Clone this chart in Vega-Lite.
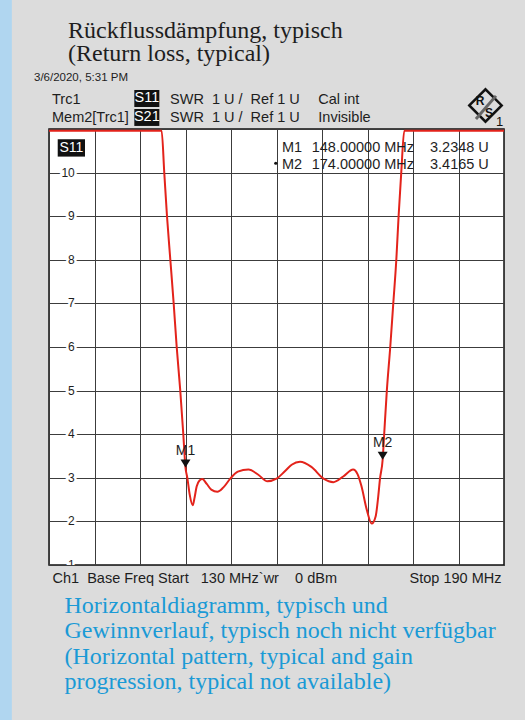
{
  "$schema": "https://vega.github.io/schema/vega-lite/v6.json",
  "width": 455,
  "height": 436,
  "autosize": {"type": "none"},
  "padding": {"left": 49, "top": 129, "right": 21, "bottom": 155},
  "background": "#dcdcdc",
  "view": {"fill": "white", "stroke": "#111111", "strokeWidth": 1.5},
  "title": {
    "text": ["Rückflussdämpfung, typisch", "(Return loss, typical)"],
    "anchor": "start",
    "frame": "group",
    "dx": 19,
    "offset": -92,
    "baseline": "bottom",
    "font": "Liberation Serif",
    "fontSize": 24,
    "fontWeight": "normal",
    "color": "#1e1e1e",
    "lineHeight": 23.5
  },
  "data": {"values": [{}]},
  "datasets": {
    "trace": [
      {"freq": 130, "swr": 10.96},
      {"freq": 144.85, "swr": 10.96},
      {"freq": 145.2, "swr": 10.0},
      {"freq": 145.56, "swr": 9.0},
      {"freq": 146.0, "swr": 8.0},
      {"freq": 146.44, "swr": 7.0},
      {"freq": 146.84, "swr": 6.0},
      {"freq": 147.31, "swr": 5.0},
      {"freq": 147.71, "swr": 4.0},
      {"freq": 148.0, "swr": 3.23},
      {"freq": 148.24, "swr": 3.0},
      {"freq": 148.55, "swr": 2.62},
      {"freq": 148.95, "swr": 2.37},
      {"freq": 149.2, "swr": 2.55},
      {"freq": 149.47, "swr": 2.8},
      {"freq": 149.85, "swr": 2.94},
      {"freq": 150.22, "swr": 2.97},
      {"freq": 150.8, "swr": 2.86},
      {"freq": 151.4, "swr": 2.73},
      {"freq": 152.2, "swr": 2.68},
      {"freq": 153.0, "swr": 2.78},
      {"freq": 153.9, "swr": 2.98},
      {"freq": 154.9, "swr": 3.14},
      {"freq": 156.3, "swr": 3.19},
      {"freq": 157.6, "swr": 3.07},
      {"freq": 158.8, "swr": 2.92},
      {"freq": 160.0, "swr": 2.98},
      {"freq": 161.1, "swr": 3.15},
      {"freq": 162.0, "swr": 3.3},
      {"freq": 163.1, "swr": 3.37},
      {"freq": 164.6, "swr": 3.25},
      {"freq": 166.2, "swr": 2.98},
      {"freq": 167.5, "swr": 2.9},
      {"freq": 168.8, "swr": 3.03},
      {"freq": 170.1, "swr": 3.19},
      {"freq": 170.7, "swr": 3.08},
      {"freq": 171.2, "swr": 2.81},
      {"freq": 171.9, "swr": 2.27},
      {"freq": 172.55, "swr": 1.95},
      {"freq": 173.08, "swr": 2.12},
      {"freq": 173.42, "swr": 2.58},
      {"freq": 173.65, "swr": 2.98},
      {"freq": 174.0, "swr": 3.42},
      {"freq": 174.2, "swr": 4.0},
      {"freq": 174.55, "swr": 5.0},
      {"freq": 175.0, "swr": 6.0},
      {"freq": 175.4, "swr": 7.0},
      {"freq": 175.8, "swr": 8.0},
      {"freq": 176.1, "swr": 9.0},
      {"freq": 176.45, "swr": 10.0},
      {"freq": 176.85, "swr": 10.96},
      {"freq": 190, "swr": 10.96}
    ],
    "markers": [
      {"marker": "M1", "freq": 148, "swr": 3.2348},
      {"marker": "M2", "freq": 174, "swr": 3.4165}
    ],
    "ticks": [
      {"tick": 1}, {"tick": 2}, {"tick": 3}, {"tick": 4}, {"tick": 5},
      {"tick": 6}, {"tick": 7}, {"tick": 8}, {"tick": 9}, {"tick": 10}
    ]
  },
  "layer": [
    {
      "mark": {"type": "rect", "color": "#b0d6f0", "clip": false},
      "encoding": {
        "x": {"datum": 123.3, "type": "quantitative"},
        "x2": {"datum": 125.1},
        "y": {"datum": 14.0, "type": "quantitative"},
        "y2": {"datum": -3}
      }
    },
    {
      "data": {"name": "trace"},
      "mark": {"type": "line", "color": "#e3231b", "strokeWidth": 2, "interpolate": "monotone", "clip": true},
      "encoding": {
        "x": {
          "field": "freq", "type": "quantitative",
          "scale": {"domain": [130, 190], "nice": false, "zero": false},
          "axis": {
            "values": [130, 136, 142, 148, 154, 160, 166, 172, 178, 184, 190],
            "grid": true, "gridColor": "#3c3c3c", "gridWidth": 1,
            "ticks": false, "tickSize": 0, "domain": false,
            "labelExpr": "datum.value == 130 ? 'Ch1\u00a0\u00a0Base Freq Start\u00a0\u00a0\u00a0130 MHz`wr\u00a0\u00a0\u00a0\u00a00 dBm' : (datum.value == 190 ? 'Stop 190 MHz' : '')",
            "labelFlush": true, "labelFlushOffset": -3, "labelOverlap": false, "labelBound": false, "labelLimit": 0,
            "labelFont": "Liberation Sans", "labelFontSize": 14.5, "labelColor": "#1e1e1e", "labelPadding": 6,
            "title": ["Horizontaldiagramm, typisch und", "Gewinnverlauf, typisch noch nicht verfügbar", "(Horizontal pattern, typical and gain", "progression, typical not available)"],
            "titleFont": "Liberation Serif", "titleFontSize": 24, "titleFontWeight": "normal", "titleColor": "#1a9ad6",
            "titleAnchor": "start", "titleAlign": "left", "titleBaseline": "alphabetic",
            "titleX": 15, "titleY": 47, "titleLineHeight": 25.5, "titleLimit": 0
          }
        },
        "y": {
          "field": "swr", "type": "quantitative",
          "scale": {"domain": [1, 11], "nice": false, "zero": false},
          "axis": {
            "values": [1, 2, 3, 4, 5, 6, 7, 8, 9, 10, 11],
            "grid": true, "gridColor": "#3c3c3c", "gridWidth": 1,
            "labels": false, "ticks": false, "domain": false, "title": null
          }
        }
      }
    },
    {
      "data": {"name": "ticks"},
      "mark": {"type": "text", "align": "right", "baseline": "middle", "font": "Liberation Sans", "fontSize": 12, "fill": "white", "stroke": "white", "strokeWidth": 5, "clip": true},
      "encoding": {
        "x": {"datum": 133.4, "type": "quantitative"},
        "y": {"field": "tick", "type": "quantitative"},
        "text": {"field": "tick"}
      }
    },
    {
      "data": {"name": "ticks"},
      "mark": {"type": "text", "align": "right", "baseline": "middle", "font": "Liberation Sans", "fontSize": 12, "color": "#1e1e1e", "clip": true},
      "encoding": {
        "x": {"datum": 133.4, "type": "quantitative"},
        "y": {"field": "tick", "type": "quantitative"},
        "text": {"field": "tick"}
      }
    },
    {
      "data": {"name": "markers"},
      "mark": {"type": "point", "shape": "M-1,-1.6L1,-1.6L0,0Z", "filled": true, "color": "#111111", "size": 100, "opacity": 1},
      "encoding": {
        "x": {"field": "freq", "type": "quantitative"},
        "y": {"field": "swr", "type": "quantitative"}
      }
    },
    {
      "data": {"name": "markers"},
      "mark": {"type": "text", "baseline": "alphabetic", "dy": -12.5, "font": "Liberation Sans", "fontSize": 14, "color": "#1e1e1e"},
      "encoding": {
        "x": {"field": "freq", "type": "quantitative"},
        "y": {"field": "swr", "type": "quantitative"},
        "text": {"field": "marker"}
      }
    },
    {
      "mark": {"type": "rect", "color": "#111111"},
      "encoding": {
        "x": {"datum": 131.15, "type": "quantitative"},
        "x2": {"datum": 134.75},
        "y": {"datum": 10.765, "type": "quantitative"},
        "y2": {"datum": 10.367}
      }
    },
    {
      "mark": {"type": "text", "text": "S11", "align": "center", "baseline": "middle", "font": "Liberation Sans", "fontSize": 14, "color": "white"},
      "encoding": {
        "x": {"datum": 132.95, "type": "quantitative"},
        "y": {"datum": 10.566, "type": "quantitative"}
      }
    },
    {
      "mark": {"type": "text", "text": ["M1", "M2"], "align": "left", "baseline": "alphabetic", "lineHeight": 16.6, "font": "Liberation Sans", "fontSize": 14.5, "color": "#1e1e1e"},
      "encoding": {
        "x": {"datum": 160.72, "type": "quantitative"},
        "y": {"datum": 10.474, "type": "quantitative"}
      }
    },
    {
      "mark": {"type": "text", "text": ["148.00000 MHz", "174.00000 MHz"], "align": "left", "baseline": "alphabetic", "lineHeight": 16.6, "font": "Liberation Sans", "fontSize": 14.5, "color": "#1e1e1e"},
      "encoding": {
        "x": {"datum": 164.64, "type": "quantitative"},
        "y": {"datum": 10.474, "type": "quantitative"}
      }
    },
    {
      "mark": {"type": "text", "text": ["3.2348 U", "3.4165 U"], "align": "left", "baseline": "alphabetic", "lineHeight": 16.6, "font": "Liberation Sans", "fontSize": 14.5, "color": "#1e1e1e"},
      "encoding": {
        "x": {"datum": 180.24, "type": "quantitative"},
        "y": {"datum": 10.474, "type": "quantitative"}
      }
    },
    {
      "mark": {"type": "point", "shape": "circle", "filled": true, "color": "#111111", "size": 10, "opacity": 1},
      "encoding": {
        "x": {"datum": 159.9, "type": "quantitative"},
        "y": {"datum": 10.215, "type": "quantitative"}
      }
    },
    {
      "mark": {"type": "text", "text": "3/6/2020, 5:31 PM", "align": "left", "baseline": "middle", "font": "Liberation Sans", "fontSize": 11.5, "color": "#1e1e1e"},
      "encoding": {
        "x": {"datum": 128.02, "type": "quantitative"},
        "y": {"datum": 12.17, "type": "quantitative"}
      }
    },
    {
      "mark": {"type": "text", "text": ["Trc1", "Mem2[Trc1]"], "align": "left", "baseline": "alphabetic", "lineHeight": 17.4, "font": "Liberation Sans", "fontSize": 14.5, "color": "#1e1e1e"},
      "encoding": {
        "x": {"datum": 130.4, "type": "quantitative"},
        "y": {"datum": 11.562, "type": "quantitative"}
      }
    },
    {
      "mark": {"type": "rect", "color": "#111111"},
      "encoding": {
        "x": {"datum": 141.25, "type": "quantitative"},
        "x2": {"datum": 144.55},
        "y": {"datum": 11.895, "type": "quantitative"},
        "y2": {"datum": 11.505}
      }
    },
    {
      "mark": {"type": "rect", "color": "#111111"},
      "encoding": {
        "x": {"datum": 141.25, "type": "quantitative"},
        "x2": {"datum": 144.55},
        "y": {"datum": 11.459, "type": "quantitative"},
        "y2": {"datum": 11.07}
      }
    },
    {
      "mark": {"type": "text", "text": "S11", "align": "center", "baseline": "middle", "font": "Liberation Sans", "fontSize": 14.5, "color": "white"},
      "encoding": {
        "x": {"datum": 142.9, "type": "quantitative"},
        "y": {"datum": 11.70, "type": "quantitative"}
      }
    },
    {
      "mark": {"type": "text", "text": "S21", "align": "center", "baseline": "middle", "font": "Liberation Sans", "fontSize": 14.5, "color": "white"},
      "encoding": {
        "x": {"datum": 142.9, "type": "quantitative"},
        "y": {"datum": 11.265, "type": "quantitative"}
      }
    },
    {
      "mark": {"type": "text", "text": ["SWR\u00a0\u00a01 U /\u00a0\u00a0Ref 1 U", "SWR\u00a0\u00a01 U /\u00a0\u00a0Ref 1 U"], "align": "left", "baseline": "alphabetic", "lineHeight": 17.4, "font": "Liberation Sans", "fontSize": 14.5, "color": "#1e1e1e"},
      "encoding": {
        "x": {"datum": 145.96, "type": "quantitative"},
        "y": {"datum": 11.562, "type": "quantitative"}
      }
    },
    {
      "mark": {"type": "text", "text": ["Cal int", "Invisible"], "align": "left", "baseline": "alphabetic", "lineHeight": 17.4, "font": "Liberation Sans", "fontSize": 14.5, "color": "#1e1e1e"},
      "encoding": {
        "x": {"datum": 165.51, "type": "quantitative"},
        "y": {"datum": 11.562, "type": "quantitative"}
      }
    },
    {
      "mark": {"type": "point", "shape": "diamond", "filled": false, "color": "#111111", "strokeWidth": 2.5, "size": 1050, "opacity": 1},
      "encoding": {
        "x": {"datum": 187.56, "type": "quantitative"},
        "y": {"datum": 11.54, "type": "quantitative"}
      }
    },
    {
      "mark": {"type": "rule", "color": "#666666", "strokeWidth": 3},
      "encoding": {
        "x": {"datum": 186.3, "type": "quantitative"},
        "y": {"datum": 11.23, "type": "quantitative"},
        "x2": {"datum": 188.94},
        "y2": {"datum": 11.76}
      }
    },
    {
      "mark": {"type": "text", "text": "R", "align": "center", "baseline": "middle", "font": "Liberation Sans", "fontSize": 12, "fontWeight": "bold", "color": "#111111"},
      "encoding": {
        "x": {"datum": 186.83, "type": "quantitative"},
        "y": {"datum": 11.64, "type": "quantitative"}
      }
    },
    {
      "mark": {"type": "text", "text": "S", "align": "center", "baseline": "middle", "font": "Liberation Sans", "fontSize": 12, "fontWeight": "bold", "color": "#111111"},
      "encoding": {
        "x": {"datum": 188.02, "type": "quantitative"},
        "y": {"datum": 11.37, "type": "quantitative"}
      }
    },
    {
      "mark": {"type": "text", "text": "1", "align": "center", "baseline": "middle", "font": "Liberation Sans", "fontSize": 13, "color": "#111111"},
      "encoding": {
        "x": {"datum": 189.41, "type": "quantitative"},
        "y": {"datum": 11.16, "type": "quantitative"}
      }
    }
  ]
}
